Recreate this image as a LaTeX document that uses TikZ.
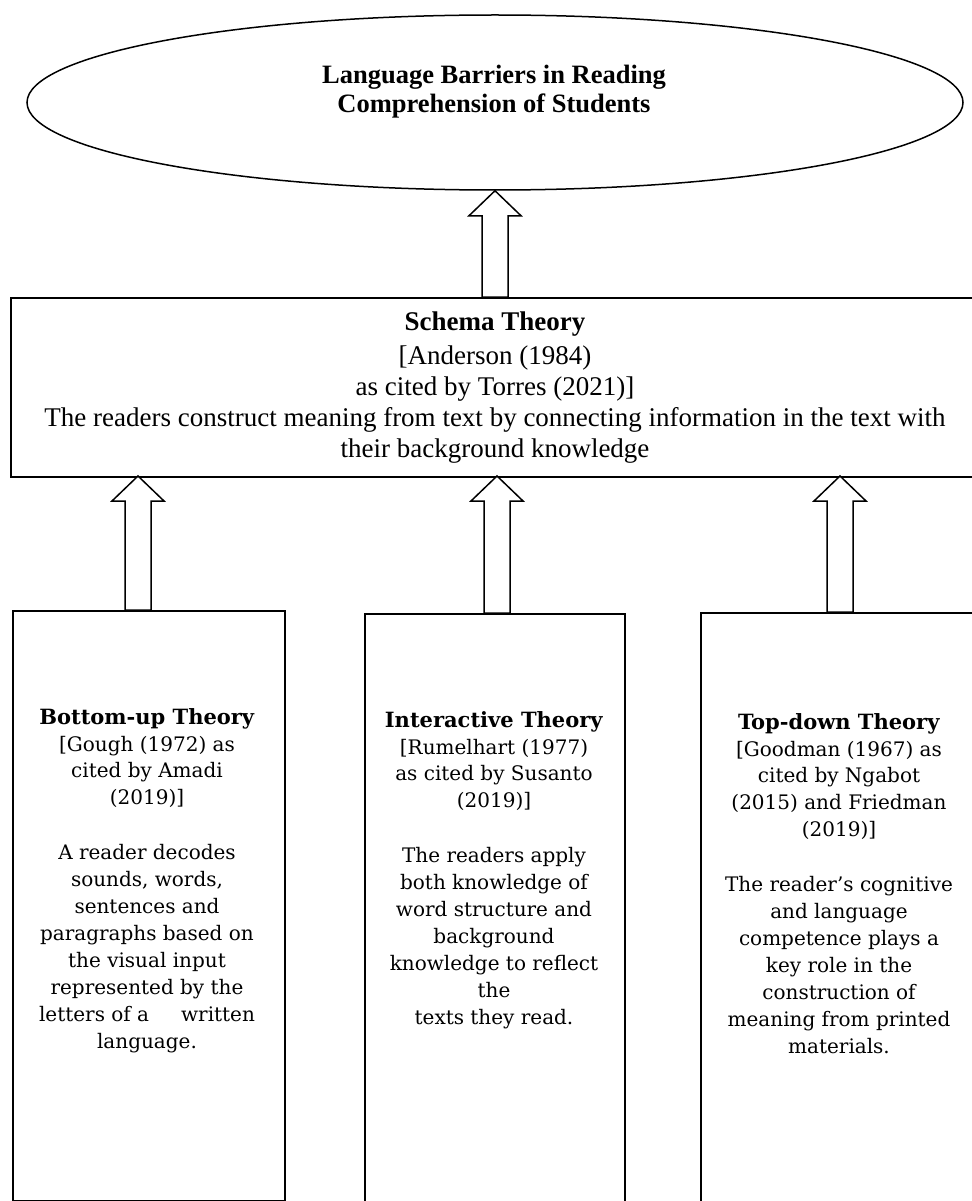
\documentclass[tikz,border=0pt]{standalone}
\usepackage{fontspec}
\setmainfont{Liberation Serif}
\newfontfamily\bookfont{DejaVu Serif}
\usetikzlibrary{shapes.geometric,calc}
\tikzset{
  box/.style={draw, line width=1.5pt, inner sep=0pt},
  blk/.style={draw, line width=1.5pt, fill=white, line join=miter},
  sidetext/.style={align=center, inner sep=0pt, anchor=north,
    font=\bookfont\fontsize{20}{26.9}\selectfont},
}
\newcommand{\sidetitle}[1]{{\fontsize{21}{26.9}\selectfont\textbf{#1}}}
\newcommand{\blockarrow}[2]{%
  \draw[blk] let \p1=(#1), \p2=(#2) in
    (\x2-13pt,\y1) -- (\x2-13pt,\y2-25pt) -- (\x2-26pt,\y2-25pt) -- (\x2,\y2)
    -- (\x2+26pt,\y2-25pt) -- (\x2+13pt,\y2-25pt) -- (\x2+13pt,\y1) -- cycle;}
\begin{document}
\begin{tikzpicture}[x=1pt,y=-1pt]
\useasboundingbox (0,0) rectangle (971,1201);
\fill[white] (0,0) rectangle (971,1201);

% goal ellipse
\node[ellipse, draw, line width=1.5pt, minimum width=936pt, minimum height=175pt, inner sep=0pt] (goal) at (495,102.5) {};
\node[font=\bfseries\fontsize{26.5}{29}\selectfont, align=center, inner sep=0pt] (goaltext) at (494,92) {Language Barriers in Reading\\Comprehension of Students};

% schema box
\node[box, anchor=north west, minimum width=965pt, minimum height=179pt] (schema) at (10,297) {};
\node[align=center, inner sep=0pt, anchor=north, font=\fontsize{27}{31}\selectfont] (schematext) at (495,312)
  {\textbf{Schema Theory}\\[3pt]{[}Anderson (1984)\\as cited by Torres (2021)]\\The readers construct meaning from text by connecting information in the text with\\their background knowledge};

% bottom boxes
\node[box, anchor=north west, minimum width=272pt, minimum height=590pt] (bu) at (12,610) {};
\node[box, anchor=north west, minimum width=260pt, minimum height=610pt] (ia) at (364,613) {};
\node[box, anchor=north west, minimum width=290pt, minimum height=610pt] (td) at (700,612) {};

\node[sidetext] (butext) at (147,708) {\sidetitle{Bottom-up Theory}\\{[}Gough (1972) as\\cited by Amadi\\(2019)]\\[28pt]A reader decodes\\sounds, words,\\sentences and\\paragraphs based on\\the visual input\\represented by the\\letters of a\hspace{1.6em}written\\language.};
\node[sidetext] (iatext) at (494,711) {\sidetitle{Interactive Theory}\\{[}Rumelhart (1977)\\as cited by Susanto\\(2019)]\\[28pt]The readers apply\\both knowledge of\\word structure and\\background\\knowledge to reflect\\the\\texts they read.};
\node[sidetext] (tdtext) at (839,713) {\sidetitle{Top-down Theory}\\{[}Goodman (1967) as\\cited by Ngabot\\(2015) and Friedman\\(2019)]\\[28pt]The reader’s cognitive\\and language\\competence plays a\\key role in the\\construction of\\meaning from printed\\materials.};

% arrows
\coordinate (t1) at (138,476);
\coordinate (t2) at (497,476);
\coordinate (t3) at (840,476);
\blockarrow{goal.south |- schema.north}{goal.south}
\blockarrow{t1 |- bu.north}{t1}
\blockarrow{t2 |- ia.north}{t2}
\blockarrow{t3 |- td.north}{t3}
\end{tikzpicture}
\end{document}
